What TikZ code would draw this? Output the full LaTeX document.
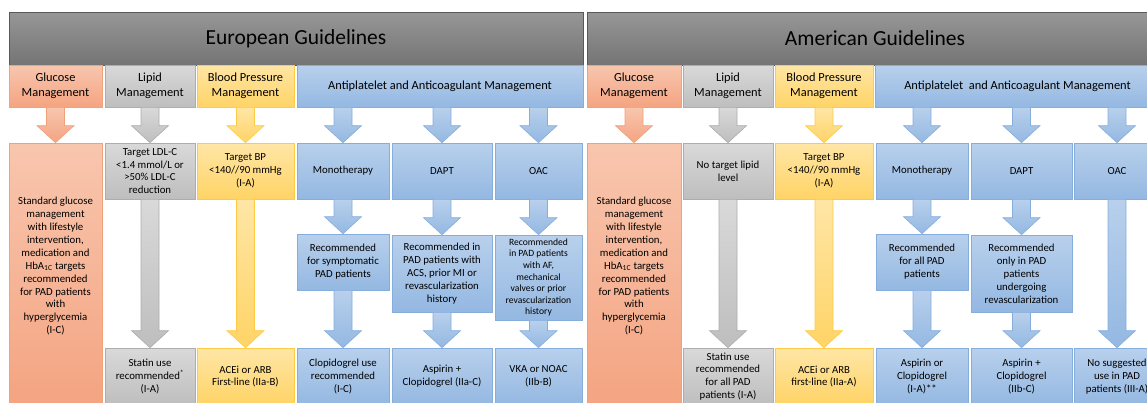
\documentclass[tikz,border=0pt]{standalone}
\usepackage{fontspec}
\setmainfont{Carlito}
\usetikzlibrary{calc}
\usepackage{xcolor}

\definecolor{hdrtop}{HTML}{979797}
\definecolor{hdrbot}{HTML}{747474}
\definecolor{hdrline}{HTML}{595959}
\definecolor{glutop}{HTML}{F8C6AE}
\definecolor{glubot}{HTML}{F4A481}
\definecolor{glubd}{HTML}{F1A07A}
\definecolor{liptop}{HTML}{D9D9D9}
\definecolor{lipbot}{HTML}{BEBEBE}
\definecolor{lipbd}{HTML}{ADADAD}
\definecolor{bptop}{HTML}{FFE6A6}
\definecolor{bpbot}{HTML}{FFD466}
\definecolor{bpbd}{HTML}{FFCB45}
\definecolor{antop}{HTML}{B8D0EC}
\definecolor{anbot}{HTML}{94B8E2}
\definecolor{anbd}{HTML}{86AEDD}

% block arrow from the bottom of one node to the top of another
\newcommand{\blockarrow}[3]{%
  \draw[#1, line width=0.6pt] let \p1=(#3.north), \p2=(#2.south) in
    (\x1-9pt,\y2) -- (\x1+9pt,\y2) -- (\x1+9pt,\y1+17pt) -- (\x1+18.5pt,\y1+17pt)
    -- (\x1,\y1) -- (\x1-18.5pt,\y1+17pt) -- (\x1-9pt,\y1+17pt) -- cycle;}

\begin{document}
\begin{tikzpicture}[
    x=1pt, y=-1pt,
    hdr/.style={rectangle, draw=hdrline, line width=0.8pt, top color=hdrtop, bottom color=hdrbot, minimum height=53pt, font=\fontsize{21.5}{24}\selectfont},
    cat/.style={rectangle, line width=0.6pt, minimum height=42pt, align=center, inner sep=1pt, font=\fontsize{12.4}{14.7}\selectfont},
    cell/.style={rectangle, line width=0.6pt, align=center, inner sep=1pt, font=\fontsize{10.8}{12.9}\selectfont},
    gluc/.style={draw=glubd, top color=glutop, bottom color=glubot},
    lipd/.style={draw=lipbd, top color=liptop, bottom color=lipbot},
    bpress/.style={draw=bpbd, top color=bptop, bottom color=bpbot},
    antic/.style={draw=anbd, top color=antop, bottom color=anbot}
]
\useasboundingbox (0,0) rectangle (1147,402);

% Headers
\node[hdr, minimum width=574pt] (eu) at (296,38.5) {European Guidelines};
\node[hdr, minimum width=576pt] (us) at (875,38.5) {American Guidelines};

% European Guidelines - categories
\node[cat, gluc, minimum width=93pt] (euglu) at (55.5,86) {Glucose\\Management};
\node[cat, lipd, minimum width=90pt] (eulip) at (150,86) {Lipid\\Management};
\node[cat, bpress, minimum width=97pt] (eubp) at (245.5,86) {Blood Pressure\\Management};
\node[cat, antic, minimum width=286pt] (euanti) at (440,86) {Antiplatelet and Anticoagulant Management};

% European Guidelines - targets and options
\node[cell, gluc, minimum width=93pt, minimum height=262pt, text depth=17pt] (eugluT) at (55.5,274) {Standard glucose\\management\\with lifestyle\\intervention,\\medication and\\HbA\textsubscript{1C} targets\\recommended\\for PAD patients\\with\\hyperglycemia\\(I-C)};
\node[cell, lipd, minimum width=90pt, minimum height=56pt] (eulipt) at (150,171) {Target LDL-C\\<1.4 mmol/L or\\>50\% LDL-C\\reduction};
\node[cell, bpress, minimum width=97pt, minimum height=56pt] (eubpt) at (245.5,171) {Target BP\\<140//90 mmHg\\(I-A)};
\node[cell, antic, minimum width=92pt, minimum height=56pt] (eumono) at (343,171) {Monotherapy};
\node[cell, antic, minimum width=100pt, minimum height=56pt] (eudapt) at (442,171) {DAPT};
\node[cell, antic, minimum width=87pt, minimum height=56pt] (euoac) at (538.5,171) {OAC};

\node[cell, antic, minimum width=92pt, minimum height=56pt] (eumonor) at (343,262) {Recommended\\for symptomatic\\PAD patients};
\node[cell, antic, minimum width=100pt, minimum height=77pt] (eudaptr) at (442,273.5) {Recommended in\\PAD patients with\\ACS, prior MI or\\revascularization\\history};
\node[cell, antic, minimum width=87pt, minimum height=85pt, font=\fontsize{9.6}{11.6}\selectfont] (euoacr) at (538.5,277.5) {Recommended\\in PAD patients\\with AF,\\mechanical\\valves or prior\\revascularization\\history};

\node[cell, lipd, minimum width=90pt, minimum height=57pt] (eulips) at (150,376.5) {Statin use\\recommended\textsuperscript{*}\\(I-A)};
\node[cell, bpress, minimum width=97pt, minimum height=57pt] (eubpa) at (245.5,376.5) {ACEi or ARB\\First-line (IIa-B)};
\node[cell, antic, minimum width=92pt, minimum height=57pt] (eumonoc) at (343,376.5) {Clopidogrel use\\recommended\\(I-C)};
\node[cell, antic, minimum width=100pt, minimum height=57pt] (eudaptc) at (442,376.5) {Aspirin +\\Clopidogrel (IIa-C)};
\node[cell, antic, minimum width=87pt, minimum height=57pt] (euoacc) at (538.5,376.5) {VKA or NOAC\\(IIb-B)};

% American Guidelines - categories
\node[cat, gluc, minimum width=94pt] (usglu) at (634,86) {Glucose\\Management};
\node[cat, lipd, minimum width=90pt] (uslip) at (728,86) {Lipid\\Management};
\node[cat, bpress, minimum width=98pt] (usbp) at (824,86) {Blood Pressure\\Management};
\node[cat, antic, minimum width=285pt] (usanti) at (1017.5,86) {Antiplatelet\ \ and Anticoagulant Management};

% American Guidelines - targets and options
\node[cell, gluc, minimum width=94pt, minimum height=262pt, text depth=17pt] (usgluT) at (634,274) {Standard glucose\\management\\with lifestyle\\intervention,\\medication and\\HbA\textsubscript{1C} targets\\recommended\\for PAD patients\\with\\hyperglycemia\\(I-C)};
\node[cell, lipd, minimum width=90pt, minimum height=56pt] (uslipt) at (728,171) {No target lipid\\level};
\node[cell, bpress, minimum width=98pt, minimum height=56pt] (usbpt) at (824,171) {Target BP\\<140//90 mmHg\\(I-A)};
\node[cell, antic, minimum width=92pt, minimum height=56pt] (usmono) at (922,171) {Monotherapy};
\node[cell, antic, minimum width=101pt, minimum height=56pt] (usdapt) at (1021.5,171) {DAPT};
\node[cell, antic, minimum width=86pt, minimum height=56pt] (usoac) at (1117,171) {OAC};

\node[cell, antic, minimum width=92pt, minimum height=56pt] (usmonor) at (922,262) {Recommended\\for all PAD\\patients};
\node[cell, antic, minimum width=101pt, minimum height=77pt] (usdaptr) at (1021.5,273.5) {Recommended\\only in PAD\\patients\\undergoing\\revascularization};

\node[cell, lipd, minimum width=90pt, minimum height=57pt] (uslips) at (728,376.5) {Statin use\\recommended\\for all PAD\\patients (I-A)};
\node[cell, bpress, minimum width=98pt, minimum height=57pt] (usbpa) at (824,376.5) {ACEi or ARB\\first-line (IIa-A)};
\node[cell, antic, minimum width=92pt, minimum height=57pt] (usmonoa) at (922,376.5) {Aspirin or\\Clopidogrel\\(I-A)**};
\node[cell, antic, minimum width=101pt, minimum height=57pt] (usdapta) at (1021.5,376.5) {Aspirin +\\Clopidogrel\\(IIb-C)};
\node[cell, antic, minimum width=86pt, minimum height=57pt] (usoacn) at (1117,376.5) {No suggested\\use in PAD\\patients (III-A)};

% Connections (European)
\blockarrow{gluc}{euglu}{eugluT}
\blockarrow{lipd}{eulip}{eulipt}
\blockarrow{bpress}{eubp}{eubpt}
\blockarrow{antic}{euanti}{eumono}
\blockarrow{antic}{euanti}{eudapt}
\blockarrow{antic}{euanti}{euoac}
\blockarrow{lipd}{eulipt}{eulips}
\blockarrow{bpress}{eubpt}{eubpa}
\blockarrow{antic}{eumono}{eumonor}
\blockarrow{antic}{eumonor}{eumonoc}
\blockarrow{antic}{eudapt}{eudaptr}
\blockarrow{antic}{eudaptr}{eudaptc}
\blockarrow{antic}{euoac}{euoacr}
\blockarrow{antic}{euoacr}{euoacc}

% Connections (American)
\blockarrow{gluc}{usglu}{usgluT}
\blockarrow{lipd}{uslip}{uslipt}
\blockarrow{bpress}{usbp}{usbpt}
\blockarrow{antic}{usanti}{usmono}
\blockarrow{antic}{usanti}{usdapt}
\blockarrow{antic}{usanti}{usoac}
\blockarrow{lipd}{uslipt}{uslips}
\blockarrow{bpress}{usbpt}{usbpa}
\blockarrow{antic}{usmono}{usmonor}
\blockarrow{antic}{usmonor}{usmonoa}
\blockarrow{antic}{usdapt}{usdaptr}
\blockarrow{antic}{usdaptr}{usdapta}
\blockarrow{antic}{usoac}{usoacn}

\end{tikzpicture}
\end{document}
